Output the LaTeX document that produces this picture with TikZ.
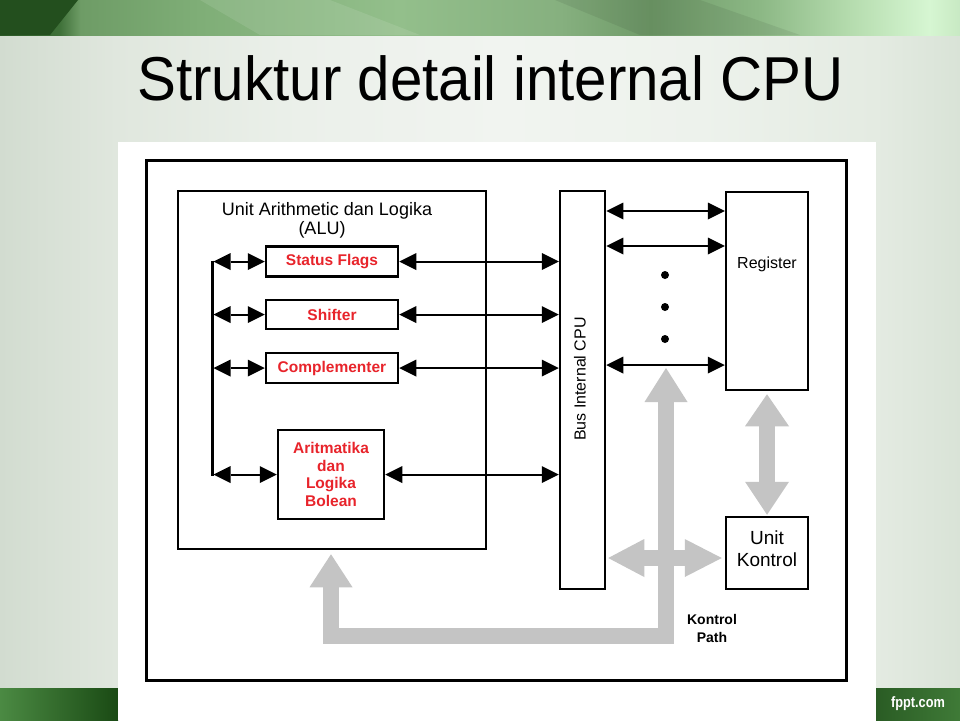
\documentclass[tikz,border=0pt]{standalone}
\usepackage{fontspec}
\setmainfont{Liberation Sans}
\usetikzlibrary{arrows.meta,calc}
\newcommand{\myfs}[2]{\fontsize{#1}{#2}\selectfont}
\definecolor{tb0}{HTML}{2C5A27}
\definecolor{tb1}{HTML}{3F7139}
\definecolor{tb2}{HTML}{6E9C66}
\definecolor{tb3}{HTML}{7FAE77}
\definecolor{tb4}{HTML}{93BF8B}
\definecolor{tb5}{HTML}{86B07F}
\definecolor{tb6}{HTML}{6F9A68}
\definecolor{tb7}{HTML}{8CB885}
\definecolor{tb8}{HTML}{B5DCAE}
\definecolor{tb9}{HTML}{D6F6D2}
\definecolor{tb10}{HTML}{C8E9C3}
\definecolor{tbd}{HTML}{234F1E}
\definecolor{bg0}{HTML}{D2DCD0}
\definecolor{bg1}{HTML}{E0E7DE}
\definecolor{bg2}{HTML}{EBF0EA}
\definecolor{bg3}{HTML}{F1F4F0}
\definecolor{bg4}{HTML}{EDF2EC}
\definecolor{bg5}{HTML}{E4EBE2}
\definecolor{bg6}{HTML}{D9E3D7}
\definecolor{bl1}{HTML}{4B8A43}
\definecolor{bl2}{HTML}{1A4A14}
\definecolor{br1}{HTML}{2A5C24}
\definecolor{br2}{HTML}{3F7A37}
\definecolor{gA}{HTML}{C4C4C4}
\definecolor{rd}{HTML}{E8242B}
\pgfdeclarehorizontalshading{topband}{100bp}{color(0bp)=(tb0); color(25bp)=(tb0); color(28.1bp)=(tb1); color(29.2bp)=(tb2); color(35.4bp)=(tb3); color(45.8bp)=(tb4); color(54.2bp)=(tb5); color(58.9bp)=(tb6); color(64.6bp)=(tb7); color(69.3bp)=(tb8); color(73.4bp)=(tb9); color(75bp)=(tb10); color(100bp)=(tb10)}
\pgfdeclarehorizontalshading{bodybg}{100bp}{color(0bp)=(bg0); color(25bp)=(bg0); color(31.1bp)=(bg1); color(40.6bp)=(bg2); color(51bp)=(bg3); color(61.5bp)=(bg4); color(70.6bp)=(bg5); color(75bp)=(bg6); color(100bp)=(bg6)}
\begin{document}
\begin{tikzpicture}[x=1pt,y=-1pt,
  box/.style={draw=black,line width=2.5pt,fill=white,inner sep=0pt},
  redtxt/.style={text=rd,font=\myfs{15.5}{17.5}\bfseries,align=center},
  txt/.style={inner sep=0pt,text=black},
  dbl/.style={line width=2pt,arrows={Triangle[length=17pt 0 0,width=17pt 0 0,line width=0pt 0 0]-Triangle[length=17pt 0 0,width=17pt 0 0,line width=0pt 0 0]}},
  gline/.style={draw=gA,line width=16pt,line join=miter,line cap=butt}]
\useasboundingbox (0,0) rectangle (960,720);
% slide background
\shade[shading=bodybg] (0,35) rectangle (960,688);
\shade[shading=topband] (0,0) rectangle (960,35);
\fill[tbd] (0,0) -- (78,0) -- (50,35) -- (0,35) -- cycle;
\fill[black,opacity=0.07] (555,0) -- (700,0) -- (800,35) -- (640,35) -- cycle;
\fill[white,opacity=0.10] (200,0) -- (330,0) -- (420,35) -- (260,35) -- cycle;
\shade[left color=bl1,right color=bl2] (0,688) rectangle (118,720);
\shade[left color=br1,right color=br2] (876,688) rectangle (960,720);
\fill[white] (118,142) rectangle (876,720);
\node[txt,text=white,font=\myfs{15}{17}\bfseries,xscale=0.85] (fppt) at (918,704) {fppt.com};
% title
\node[txt,anchor=base,font=\myfs{62}{70},xscale=0.94] (title) at (490.5,100) {Struktur detail internal CPU};
% frame
\node[box,line width=3pt,minimum width=700pt,minimum height=520pt] (frame) at (496,420) {};
% ALU
\node[box,minimum width=308pt,minimum height=358pt] (alu) at (332,370) {};
\node[txt,anchor=base,font=\myfs{18}{20}] (alut1) at (327,215) {Unit Arithmetic dan Logika};
\node[txt,anchor=base,font=\myfs{18}{20}] (alut2) at (322,234) {(ALU)};
\node[box,redtxt,minimum width=132pt,minimum height=30pt] (sf) at (332,261.5) {Status Flags};
\node[box,redtxt,minimum width=132pt,minimum height=29pt] (sh) at (332,314.5) {Shifter};
\node[box,redtxt,minimum width=132pt,minimum height=30pt] (cm) at (332,368) {Complementer};
\node[box,redtxt,minimum width=106pt,minimum height=89pt] (ar) at (331,474.5) {Aritmatika\\dan\\Logika\\Bolean};
% bus, register, control unit
\node[box,minimum width=45pt,minimum height=398pt] (bus) at (582.5,390) {};
\node[txt,rotate=90,font=\myfs{16}{18}] (busl) at (580,379) {Bus Internal CPU};
\node[box,minimum width=82pt,minimum height=198pt] (reg) at (767,291) {};
\node[txt,font=\myfs{16}{18}] (regl) at (767,264) {Register};
\node[box,minimum width=82pt,minimum height=72pt] (uk) at (767,553) {};
\node[txt,align=center,font=\myfs{19}{22}] (ukl) at (767,549) {Unit\\Kontrol};
\node[txt,align=center,font=\myfs{14}{18}\bfseries] (kpl) at (712,628) {Kontrol\\Path};
% left vertical line and arrows
\coordinate (vtop) at (212,260.5);
\coordinate (vbot) at (212,476);
\coordinate (vl) at (213.5,262);
\draw[line width=3pt] (vtop) -- (vbot);
\draw[dbl] (vl |- sf.west) -- (sf.west);
\draw[dbl] (vl |- sh.west) -- (sh.west);
\draw[dbl] (vl |- cm.west) -- (cm.west);
\draw[dbl] (vl |- ar.west) -- (ar.west);
% ALU units to bus
\draw[dbl] (sf.east) -- (sf.east -| bus.west);
\draw[dbl] (sh.east) -- (sh.east -| bus.west);
\draw[dbl] (cm.east) -- (cm.east -| bus.west);
\draw[dbl] (ar.east) -- (ar.east -| bus.west);
% bus to register
\coordinate (r1) at (0,211);
\coordinate (r2) at (0,246);
\coordinate (r3) at (0,365);
\draw[dbl] (bus.east |- r1) -- (reg.west |- r1);
\draw[dbl] (bus.east |- r2) -- (reg.west |- r2);
\draw[dbl] (bus.east |- r3) -- (reg.west |- r3);
\fill (665,275) circle (4pt);
\fill (665,307) circle (4pt);
\fill (665,339) circle (4pt);
% gray control paths
\coordinate (kp1) at (331,636);
\coordinate (kp2) at (666,636);
\coordinate (kpt) at (666,368);
\draw[gline,arrows={Triangle[length=33pt 0 0,width=43pt 0 0,line width=0pt 0 0]-Triangle[length=34pt 0 0,width=43pt 0 0,line width=0pt 0 0]}]
  ($(alu.south)+(-1,4)$) -- (kp1) -- (kp2) -- (kpt);
\coordinate (hy) at (0,558);
\draw[gline,arrows={Triangle[length=36pt 0 0,width=38pt 0 0,line width=0pt 0 0]-Triangle[length=37pt 0 0,width=38pt 0 0,line width=0pt 0 0]}]
  ([xshift=2pt]bus.east |- hy) -- ([xshift=-3pt]uk.west |- hy);
\draw[gline,arrows={Triangle[length=32pt 0 0,width=44pt 0 0,line width=0pt 0 0]-Triangle[length=33pt 0 0,width=44pt 0 0,line width=0pt 0 0]}]
  ([yshift=-3pt]reg.south) -- ([yshift=1pt]uk.north);
\end{tikzpicture}
\end{document}
